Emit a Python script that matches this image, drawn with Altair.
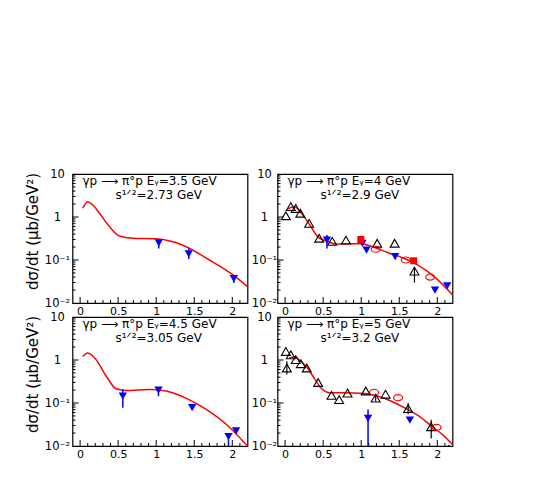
import altair as alt
import pandas as pd

FONT = "DejaVu Sans"
RED = "#ff0000"
BLUE = "#0000ff"
XDOM = [-0.1, 2.2]
YDOM = [0.01, 10]
W = 175
H = 129

# ---------------- data ----------------
# Panel 1: E_gamma = 3.5 GeV
p1_curve_x = [0.035, 0.10, 0.167, 0.255, 0.386, 0.518, 0.69, 1.0, 1.35, 1.70, 2.01, 2.2]
p1_curve_y = [1.6, 2.27, 1.9, 1.22, 0.6, 0.36, 0.32, 0.31, 0.22, 0.10, 0.045, 0.024]
p1_blue_x = [1.034, 1.428, 2.02]
p1_blue_y = [0.25, 0.138, 0.037]
p1_blue_lo = [0.186, 0.105, 0.029]
p1_blue_hi = [0.30, 0.186, 0.045]

# Panel 2: E_gamma = 4 GeV
p2_curve_x = [0.031, 0.119, 0.25, 0.338, 0.426, 0.557, 0.667, 0.995, 1.148, 1.345, 1.56, 1.74, 1.96, 2.2]
p2_curve_y = [1.53, 1.74, 1.02, 0.60, 0.35, 0.27, 0.235, 0.24, 0.204, 0.15, 0.11, 0.077, 0.041, 0.0155]
p2_black_x = [0.01, 0.075, 0.14, 0.20, 0.316, 0.448, 0.62, 0.80, 1.21, 1.44, 1.70]
p2_black_y = [1.07, 1.74, 1.58, 1.22, 0.71, 0.32, 0.27, 0.29, 0.245, 0.245, 0.055]
p2_black_err_x = [1.70]
p2_black_lo = [0.030]
p2_black_hi = [0.07]
p2_blue_x = [0.55, 1.017, 1.07, 1.446, 1.97, 2.13]
p2_blue_y = [0.29, 0.245, 0.17, 0.12, 0.020, 0.025]
p2_blue_err_x = [0.55]
p2_blue_lo = [0.186]
p2_blue_hi = [0.38]
p2_sq_x = [0.995, 1.69]
p2_sq_y = [0.30, 0.096]
p2_circ_x = [1.19, 1.586, 1.906]
p2_circ_y = [0.178, 0.10, 0.040]

# Panel 3: E_gamma = 4.5 GeV
p3_curve_x = [0.035, 0.10, 0.21, 0.343, 0.474, 0.605, 0.91, 1.13, 1.39, 1.657, 1.92, 2.19]
p3_curve_y = [1.21, 1.45, 1.02, 0.42, 0.214, 0.195, 0.206, 0.19, 0.13, 0.071, 0.032, 0.0104]
p3_blue_x = [0.561, 1.03, 1.473, 1.95, 2.05]
p3_blue_y = [0.144, 0.20, 0.078, 0.0166, 0.0224]
p3_blue_lo = [0.078, 0.144, 0.074, 0.01, 0.020]
p3_blue_hi = [0.206, 0.225, 0.082, 0.020, 0.025]

# Panel 4: E_gamma = 5 GeV
p4_curve_x = [0.053, 0.119, 0.207, 0.294, 0.382, 0.469, 0.579, 0.776, 1.04, 1.214, 1.39, 1.564, 1.74, 1.915, 2.09, 2.21]
p4_curve_y = [1.11, 1.17, 0.93, 0.65, 0.38, 0.225, 0.173, 0.173, 0.167, 0.145, 0.111, 0.078, 0.052, 0.030, 0.017, 0.0104]
p4_black_x = [0.01, 0.075, 0.14, 0.207, 0.285, 0.023, 0.434, 0.61, 0.71, 0.82, 1.06, 1.19, 1.32, 1.617, 1.92]
p4_black_y = [1.58, 1.32, 1.02, 0.82, 0.65, 0.65, 0.30, 0.15, 0.12, 0.17, 0.19, 0.13, 0.16, 0.074, 0.028]
p4_black_err_x = [0.023, 1.19, 1.617, 1.92]
p4_black_lo = [0.46, 0.11, 0.055, 0.015]
p4_black_hi = [0.93, 0.15, 0.10, 0.041]
p4_circ_x = [1.17, 1.486, 1.99]
p4_circ_y = [0.178, 0.133, 0.027]
p4_blue_x = [1.09, 1.64, 2.15]
p4_blue_y = [0.044, 0.040, 0.004]
p4_blue_err_x = [1.09, 2.15]
p4_blue_lo = [0.005, 0.005]
p4_blue_hi = [0.071, 0.0106]

# axis tick positions
x_major = [0, 0.5, 1, 1.5, 2]
x_minor = [0.1, 0.2, 0.3, 0.4, 0.6, 0.7, 0.8, 0.9, 1.1, 1.2, 1.3, 1.4, 1.6, 1.7, 1.8, 1.9, 2.1]
y_major = [0.1, 1]
y_minor = [k * 10.0 ** e for e in (-2, -1, 0) for k in range(2, 10)]
y_labels = [0.01, 0.1, 1, 10]

ELLIPSE = "M-1,0A1,0.68 0 1,0 1,0A1,0.68 0 1,0 -1,0Z"

xs = alt.Scale(domain=XDOM, nice=False, zero=False)
ys = alt.Scale(type="log", domain=YDOM, nice=False)


def pts(x, y):
    return pd.DataFrame({"x": x, "y": y})


def errs(x, lo, hi):
    return pd.DataFrame({"x": x, "lo": lo, "hi": hi})


def panel(curve_x, curve_y, markers, bars, line1, line2, title, lab_pad, h):
    ylab = ("datum.value == 10 ? '10' : datum.value == 1 ? '1' : "
            "datum.value == 0.1 ? '10\u207b\u00b9' : datum.value == 0.01 ? '10\u207b\u00b2' : ''")
    yaxis = alt.Axis(values=y_labels, labelExpr=ylab, ticks=False, domain=False, grid=False,
                     labelAlign="center", labelBaseline="middle", labelPadding=lab_pad,
                     labelFontSize=11.5, labelFont=FONT, labelColor="black",
                     title=title if title else "",
                     titleFont=FONT, titleFontSize=15, titleFontWeight="normal",
                     titleColor="black", titleX=-40, titleY=57, titleAngle=270,
                     titleAlign="center", titleBaseline="middle")
    xaxis = alt.Axis(values=x_major, format="~g", ticks=False, domain=False, grid=False,
                     labelFontSize=11, labelFont=FONT, labelColor="black", labelPadding=2,
                     labelFlush=False, title="")
    curve = alt.Chart(pts(curve_x, curve_y)).mark_line(
        color=RED, strokeWidth=1.5, clip=True, interpolate="monotone"
    ).encode(
        x=alt.X("x:Q", scale=xs, axis=xaxis),
        y=alt.Y("y:Q", scale=ys, axis=yaxis),
    )
    layers = [curve]
    # tick marks drawn inward
    layers.append(alt.Chart(pd.DataFrame({"x": x_major})).mark_rule(color="black", strokeWidth=1).encode(
        x=alt.X("x:Q"), y=alt.value(h), y2=alt.value(h - 6)))
    layers.append(alt.Chart(pd.DataFrame({"x": x_minor})).mark_rule(color="black", strokeWidth=1).encode(
        x=alt.X("x:Q"), y=alt.value(h), y2=alt.value(h - 3)))
    layers.append(alt.Chart(pd.DataFrame({"y": y_major})).mark_rule(color="black", strokeWidth=1).encode(
        y=alt.Y("y:Q"), x=alt.value(0), x2=alt.value(6)))
    layers.append(alt.Chart(pd.DataFrame({"y": y_minor})).mark_rule(color="black", strokeWidth=1).encode(
        y=alt.Y("y:Q"), x=alt.value(0), x2=alt.value(3)))
    for df, color, width in bars:
        layers.append(alt.Chart(df).mark_rule(color=color, strokeWidth=width, clip=True).encode(
            x=alt.X("x:Q"),
            y=alt.Y("lo:Q", title=""),
            y2="hi:Q"))
    for df, shape, color, filled, size in markers:
        layers.append(alt.Chart(df).mark_point(
            shape=shape, color=color, filled=filled, size=size, clip=True,
            opacity=1, strokeWidth=1.1
        ).encode(
            x=alt.X("x:Q"),
            y=alt.Y("y:Q")))
    layers.append(alt.Chart(pd.DataFrame({"t": [line1]})).mark_text(
        font=FONT, fontSize=12, align="left", baseline="middle", color="black"
    ).encode(text="t:N", x=alt.value(10), y=alt.value(7)))
    layers.append(alt.Chart(pd.DataFrame({"t": [line2]})).mark_text(
        font=FONT, fontSize=12, align="left", baseline="middle", color="black"
    ).encode(text="t:N", x=alt.value(43), y=alt.value(21)))
    return alt.layer(*layers).properties(width=W, height=h)


YTITLE = "d\u03c3/dt (\u03bcb/GeV\u00b2)"
L1 = "\u03b3p \u27f6 \u03c0\u00b0p E\u1d67={} GeV"
L2 = "s\u00b9\u141f\u00b2={} GeV"

tri_dn = lambda x, y: (pts(x, y), "triangle-down", BLUE, True, 70)
tri_up = lambda x, y: (pts(x, y), "triangle-up", "black", False, 80)
square = lambda x, y: (pts(x, y), "square", RED, True, 50)
circ = lambda x, y: (pts(x, y), ELLIPSE, RED, False, 80)

c1 = panel(p1_curve_x, p1_curve_y,
           [tri_dn(p1_blue_x, p1_blue_y)],
           [(errs(p1_blue_x, p1_blue_lo, p1_blue_hi), BLUE, 1.5)],
           L1.format("3.5"), L2.format("2.73"), YTITLE, 15.5, H)
c2 = panel(p2_curve_x, p2_curve_y,
           [tri_up(p2_black_x, p2_black_y), tri_dn(p2_blue_x, p2_blue_y),
            square(p2_sq_x, p2_sq_y), circ(p2_circ_x, p2_circ_y)],
           [(errs(p2_black_err_x, p2_black_lo, p2_black_hi), "black", 1.2),
            (errs(p2_blue_err_x, p2_blue_lo, p2_blue_hi), BLUE, 1.5)],
           L1.format("4"), L2.format("2.9"), None, 13.5, H)
c3 = panel(p3_curve_x, p3_curve_y,
           [tri_dn(p3_blue_x, p3_blue_y)],
           [(errs(p3_blue_x, p3_blue_lo, p3_blue_hi), BLUE, 1.5)],
           L1.format("4.5"), L2.format("3.05"), YTITLE, 15.5, H)
c4 = panel(p4_curve_x, p4_curve_y,
           [tri_up(p4_black_x, p4_black_y), circ(p4_circ_x, p4_circ_y),
            tri_dn(p4_blue_x, p4_blue_y)],
           [(errs(p4_black_err_x, p4_black_lo, p4_black_hi), "black", 1.2),
            (errs(p4_blue_err_x, p4_blue_lo, p4_blue_hi), BLUE, 1.5)],
           L1.format("5"), L2.format("3.2"), None, 13.5, H)

chart = alt.concat(c1, c2, c3, c4, columns=2, spacing={"row": 14, "column": 30},
                   bounds="flush").properties(
    padding={"top": 159, "left": 16.5, "right": 5, "bottom": 5},
    background="white",
).configure_view(stroke="black", strokeWidth=1.2)

chart.save("out.html", embed_options={"renderer": "svg", "actions": False})
